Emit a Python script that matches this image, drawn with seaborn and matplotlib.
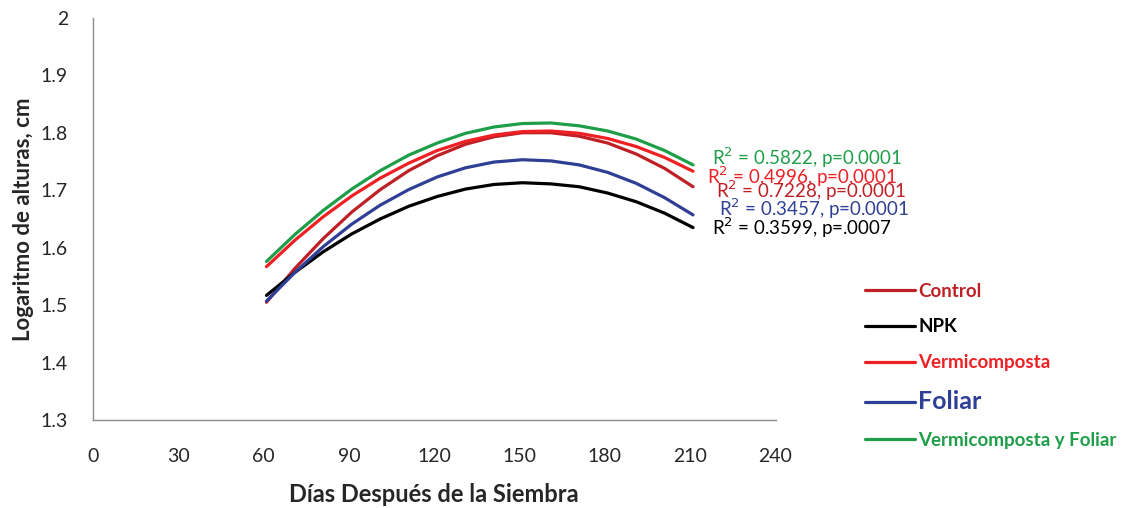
import pandas as pd
import matplotlib
matplotlib.use("Agg")
import matplotlib.pyplot as plt
import seaborn as sns

sns.set_style("white")
plt.rcParams['font.family'] = ['Lato', 'DejaVu Sans']

# Days after sowing where the fitted curves were read
dias = [61, 71, 81, 91, 101, 111, 121, 131, 141, 151, 161, 171, 181, 191, 201, 211]

# log10 of plant height
control = [1.505, 1.564, 1.616, 1.662, 1.701, 1.734, 1.760, 1.780,
           1.793, 1.800, 1.800, 1.794, 1.782, 1.763, 1.738, 1.706]
npk = [1.517, 1.557, 1.593, 1.624, 1.650, 1.672, 1.689, 1.702,
       1.710, 1.713, 1.711, 1.706, 1.695, 1.680, 1.660, 1.635]
vermi = [1.567, 1.613, 1.654, 1.690, 1.721, 1.747, 1.769, 1.785,
         1.796, 1.802, 1.803, 1.799, 1.790, 1.776, 1.757, 1.733]
foliar = [1.507, 1.557, 1.602, 1.641, 1.674, 1.701, 1.723, 1.739,
          1.749, 1.753, 1.751, 1.744, 1.731, 1.712, 1.687, 1.657]
vermi_foliar = [1.576, 1.623, 1.665, 1.702, 1.734, 1.761, 1.782, 1.799,
                1.810, 1.816, 1.817, 1.812, 1.803, 1.789, 1.769, 1.744]

tratamientos = ["Control", "NPK", "Vermicomposta", "Foliar", "Vermicomposta y Foliar"]
colores = ["#BE2026", "#000000", "#EE2024", "#2E3F95", "#1E9E48"]

# R2 labels (text, colour, position in data units)
r2_text = ["R$^2$ = 0.5822, p=0.0001", "R$^2$ = 0.4996, p=0.0001", "R$^2$ = 0.7228, p=0.0001",
           "R$^2$ = 0.3457, p=0.0001", "R$^2$ = 0.3599, p=.0007"]
r2_col = ["#1E9E48", "#EE2024", "#BE2026", "#2E3F95", "#000000"]
r2_x = [217.8, 216.0, 219.2, 220.0, 217.8]
r2_y = [1.756, 1.723, 1.699, 1.667, 1.634]

df = pd.DataFrame({
    "dias": dias * 5,
    "valor": control + npk + vermi + foliar + vermi_foliar,
    "trat": sum([[t] * len(dias) for t in tratamientos], []),
})

fig = plt.figure(figsize=(11.3, 5.08), dpi=100)
ax = fig.add_axes([0.0823, 0.173, 0.604, 0.792])

sns.lineplot(data=df, x="dias", y="valor", hue="trat", hue_order=tratamientos,
             palette=colores, linewidth=2.3, ax=ax)

ax.set_xlim(0, 240)
ax.set_ylim(1.3, 2.0)
ax.set_xticks(range(0, 241, 30))
ax.set_yticks([1.3, 1.4, 1.5, 1.6, 1.7, 1.8, 1.9, 2.0])
ax.set_yticklabels(["1.3", "1.4", "1.5", "1.6", "1.7", "1.8", "1.9", "2"])
ax.tick_params(axis="both", length=0, labelsize=14, colors="#262626")
ax.tick_params(axis="x", pad=20)
ax.tick_params(axis="y", pad=18)

for s in ["top", "right"]:
    ax.spines[s].set_visible(False)
for s in ["left", "bottom"]:
    ax.spines[s].set_color("#8C8C8C")
    ax.spines[s].set_linewidth(1.0)

ax.set_xlabel("Días Después de la Siembra", fontsize=17, fontweight="bold", labelpad=13)
ax.set_ylabel("Logaritmo de alturas, cm", fontsize=16, fontweight="bold", labelpad=5)

for t, c, x, y in zip(r2_text, r2_col, r2_x, r2_y):
    ax.text(x, y, t, color=c, fontsize=13.5, va="center", ha="left", clip_on=False)

leg = ax.legend(loc="upper left", bbox_to_anchor=(0.757, 0.462), bbox_transform=fig.transFigure,
                frameon=False, fontsize=13.5, labelcolor="linecolor", handlelength=2.7,
                handletextpad=0.15, labelspacing=1.0, borderpad=0)
for txt in leg.get_texts():
    txt.set_fontweight("bold")
leg.get_texts()[3].set_fontsize(18)
for ln in leg.get_lines():
    ln.set_linewidth(2.3)

fig.savefig("out.png", dpi=100)
